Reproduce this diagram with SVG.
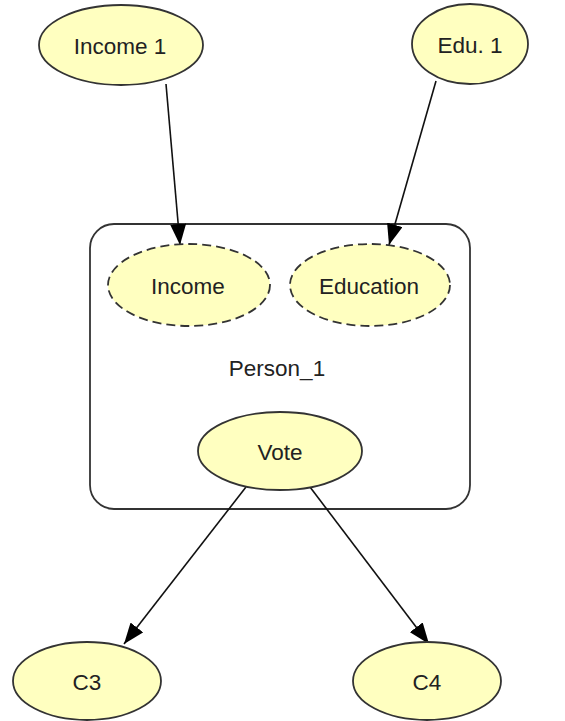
<svg xmlns="http://www.w3.org/2000/svg" width="565" height="721" viewBox="0 0 565 721">
<style>
.n{fill:#ffffc0;stroke:#333;stroke-width:1.8}
.d{fill:#ffffc0;stroke:#333;stroke-width:1.8;stroke-dasharray:9,5}
.t{font-family:"Liberation Sans",Arial,sans-serif;font-size:22.5px;fill:#222;text-anchor:middle;dominant-baseline:central}
.e{stroke:#111;stroke-width:1.6;fill:none;marker-end:url(#a)}
</style>
<defs>
<marker id="a" viewBox="0 0 21 16" refX="21" refY="8" markerWidth="21" markerHeight="16" markerUnits="userSpaceOnUse" orient="auto">
<path d="M0,0 L21,8 L0,16 Z" fill="#000"/>
</marker>
</defs>
<rect width="565" height="721" fill="#fff"/>
<g id="Person_1">
<rect x="90" y="224" width="380" height="285" rx="24" fill="#fff" stroke="#333" stroke-width="1.8"/>
<text class="t" x="277" y="368">Person_1</text>
</g>
<g id="connectors">
<line class="e" x1="166" y1="84" x2="180" y2="245"/>
<line class="e" x1="436" y1="81" x2="389" y2="245"/>
<line class="e" x1="246" y1="487" x2="124" y2="644"/>
<line class="e" x1="310" y1="487" x2="429" y2="644"/>
</g>
<g id="Income1"><ellipse class="n" cx="121" cy="45" rx="82" ry="40"/><text class="t" x="120" y="46">Income 1</text></g>
<g id="Edu1"><ellipse class="n" cx="470" cy="44" rx="58" ry="40"/><text class="t" x="470" y="45">Edu. 1</text></g>
<g id="Income"><ellipse class="d" cx="189" cy="285" rx="81" ry="41"/><text class="t" x="188" y="286">Income</text></g>
<g id="Education"><ellipse class="d" cx="370" cy="285" rx="80" ry="41"/><text class="t" x="369" y="286">Education</text></g>
<g id="Vote"><ellipse class="n" cx="280" cy="451" rx="82" ry="39"/><text class="t" x="280" y="452">Vote</text></g>
<g id="C3"><ellipse class="n" cx="87" cy="681" rx="74" ry="39"/><text class="t" x="87" y="682">C3</text></g>
<g id="C4"><ellipse class="n" cx="427" cy="681" rx="74" ry="39"/><text class="t" x="427" y="682">C4</text></g>
</svg>
